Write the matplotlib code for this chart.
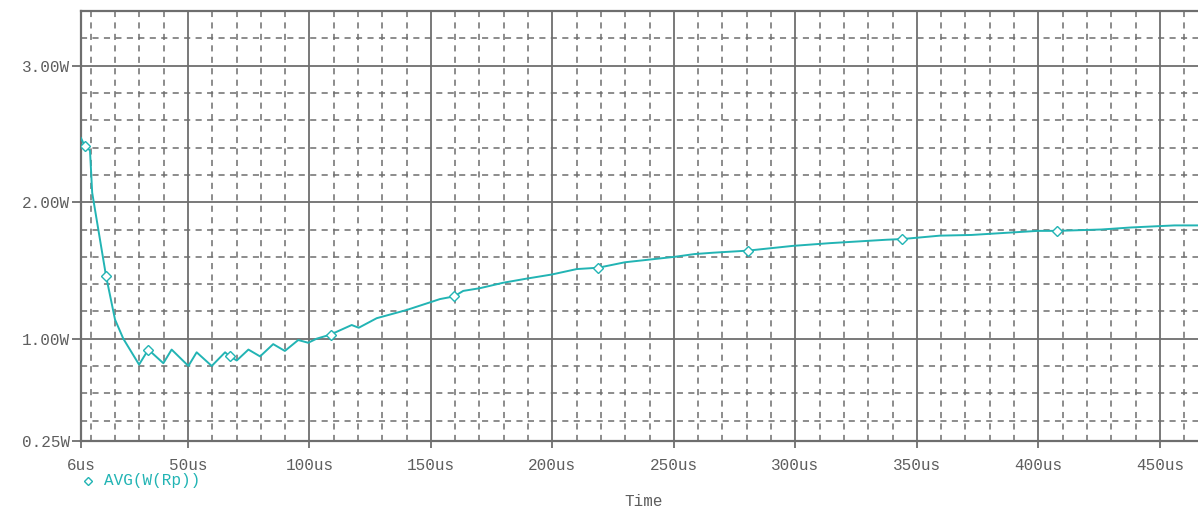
import matplotlib
matplotlib.use("Agg")
import matplotlib.pyplot as plt

# Curve (time in us, power in W)
time_us = [6, 7.6, 9.7, 10.6, 16.3, 20, 23.4, 29.9, 33.7, 39.9, 43.3, 50.2,
           53.6, 59.8, 65.3, 67.3, 70.1, 74.9, 79.7, 85.1, 89.9, 95.4, 99.5,
           103, 108.7, 117.4, 120.3, 127.7, 140, 150.3, 153.7, 159.6, 163.3,
           170.2, 179.8, 189.4, 199.7, 210, 218.9, 229.9, 240.2, 250.4, 258.5,
           266.2, 280.3, 299, 314.2, 337.5, 344, 359.5, 372.4, 399.8, 407.8,
           425.9, 438.2, 456, 465.7]
power_w = [2.47, 2.41, 2.38, 2.07, 1.46, 1.14, 1.0, 0.81, 0.92, 0.82, 0.92,
           0.80, 0.90, 0.80, 0.90, 0.87, 0.84, 0.92, 0.87, 0.96, 0.91, 0.99,
           0.97, 1.0, 1.03, 1.10, 1.08, 1.15, 1.21, 1.27, 1.29, 1.31, 1.35,
           1.37, 1.41, 1.44, 1.47, 1.51, 1.52, 1.56, 1.58, 1.60, 1.62, 1.63,
           1.645, 1.68, 1.70, 1.725, 1.73, 1.755, 1.76, 1.79, 1.79, 1.80,
           1.815, 1.83, 1.83]

# Diamond markers along the trace
marker_us = [7.6, 16.3, 33.7, 67.3, 108.7, 159.6, 218.9, 280.3, 344, 407.8]
marker_w = [2.41, 1.46, 0.92, 0.87, 1.03, 1.31, 1.52, 1.645, 1.73, 1.79]

x_ticks = [6, 50, 100, 150, 200, 250, 300, 350, 400, 450]
x_labels = ["6us", "50us", "100us", "150us", "200us", "250us", "300us",
            "350us", "400us", "450us"]
y_ticks = [0.25, 1.0, 2.0, 3.0]
y_labels = ["0.25W", "1.00W", "2.00W", "3.00W"]
x_minor = [v for v in range(10, 470, 10) if v % 50]
y_minor = [0.4, 0.6, 0.8, 1.2, 1.4, 1.6, 1.8, 2.2, 2.4, 2.6, 2.8, 3.2, 3.4]

TEAL = "#22b4b4"
GRID = "#6e6e6e"
TEXT = "#5e5e5e"
FONT = "Liberation Mono"
FSIZE = 11.5

fig = plt.figure(figsize=(11.98, 5.12), dpi=100)
ax = fig.add_axes([81 / 1198, 1 - 441 / 512, 1 - 81 / 1198, 430.5 / 512])

ax.plot(time_us, power_w, color=TEAL, lw=1.4, zorder=3)
ax.plot(marker_us, marker_w, ls="none", marker="D", ms=5, mfc="white",
        mec=TEAL, mew=1.0, zorder=4)

ax.set_xlim(6, 465.7)
ax.set_ylim(0.25, 3.405)

ax.set_xticks(x_ticks)
ax.set_xticklabels(x_labels)
ax.set_yticks(y_ticks)
ax.set_yticklabels(y_labels)
ax.set_xticks(x_minor, minor=True)
ax.set_yticks(y_minor, minor=True)

ax.grid(which="major", color=GRID, lw=1.3, ls="-")
ax.grid(which="minor", color=GRID, lw=1.1, ls=(0, (4, 3.5)))
ax.set_axisbelow(True)

ax.tick_params(which="minor", length=0)
ax.tick_params(axis="x", which="major", length=5, width=1.3, color=GRID,
               pad=7, labelcolor=TEXT, labelsize=FSIZE)
ax.tick_params(axis="y", which="major", length=6.5, width=1.3, color=GRID,
               pad=1.5, labelcolor=TEXT, labelsize=FSIZE)
for lab in ax.get_xticklabels() + ax.get_yticklabels():
    lab.set_fontfamily(FONT)

for side in ("left", "bottom", "top"):
    ax.spines[side].set_color(GRID)
    ax.spines[side].set_linewidth(1.6)
ax.spines["right"].set_visible(False)

# Legend entry and axis title below the plot
ax.plot([88 / 1198], [1 - 481 / 512], transform=fig.transFigure, ls="none",
        marker="D", ms=4.5, mfc="white", mec=TEAL, mew=1.0, clip_on=False)
fig.text(104 / 1198, 1 - 481 / 512, "AVG(W(Rp))", color=TEAL, family=FONT,
         fontsize=FSIZE, va="center", ha="left")
fig.text(644 / 1198, 1 - 501 / 512, "Time", color=TEXT, family=FONT,
         fontsize=FSIZE, va="center", ha="center")

fig.savefig("out.png", dpi=100)
